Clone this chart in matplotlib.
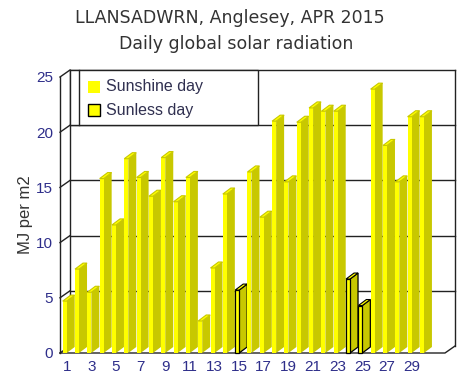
import numpy as np
import matplotlib
matplotlib.use("Agg")
import matplotlib.pyplot as plt
from matplotlib.patches import Polygon, Rectangle

# data (MJ per m2)
days = np.arange(1, 31)
radiation = [4.7, 7.6, 5.5, 15.8, 11.6, 17.6, 15.9, 14.2, 17.7, 13.7,
             15.9, 2.9, 7.7, 14.4, 5.7, 16.4, 12.3, 21.0, 15.5, 20.9,
             22.2, 21.9, 21.9, 6.7, 4.3, 23.9, 18.8, 15.5, 21.4, 21.4]
sunless_days = [15, 24, 25]
yticks = [0, 5, 10, 15, 20, 25]
xticks = list(range(1, 30, 2))

YELLOW = "#FFFF00"
OLIVE = "#C8C800"
NAVY = "#2E2E8A"

W, H = 467, 379
fig = plt.figure(figsize=(W / 100, H / 100), dpi=100)
ax = fig.add_axes([60 / W, (H - 353) / H, 385 / W, 276 / H])
ax.set_xlim(0.456, 31.71)
ax.set_ylim(0, 25)

# pixel -> data scale factors for the fake depth
sx = 385 / (31.71 - 0.456)
sy = 276 / 25.0
wall_dx, wall_dy = 10 / sx, 7 / sy
bar_dx, bar_dy = 8 / sx, 6 / sy
front_w = 4 / sx
x0, x1 = ax.get_xlim()

# walls and grid
ax.plot([x0 + wall_dx, x1 + wall_dx], [25 + wall_dy] * 2, color="#222222", lw=1, clip_on=False)
ax.plot([x1 + wall_dx] * 2, [wall_dy, 25 + wall_dy], color="#222222", lw=1, clip_on=False)
ax.plot([x0 + wall_dx] * 2, [wall_dy, 25 + wall_dy], color="#222222", lw=1, clip_on=False)
for v in yticks[1:-1]:
    ax.plot([x0 + wall_dx, x1 + wall_dx], [v + wall_dy] * 2, color="#222222", lw=1, clip_on=False)
for v in yticks:
    ax.plot([x0, x0 + wall_dx], [v, v + wall_dy], color="#222222", lw=1, clip_on=False)
ax.plot([x0, x0], [0, 25], color="#222222", lw=1, clip_on=False)
ax.plot([x0, x1, x1 + wall_dx], [0, 0, wall_dy], color="#222222", lw=1, clip_on=False)

# legend box drawn on the back wall
lx0, lx1 = x0 + wall_dx, x0 + (258 - 60) / sx
ly0, ly1 = 25 + wall_dy - (55 / sy), 25 + wall_dy
ax.add_patch(Rectangle((lx0, ly0), lx1 - lx0, ly1 - ly0, facecolor="white",
                       edgecolor="#222222", lw=1, clip_on=False, zorder=3))
ax.plot([x0 + 19 / sx] * 2, [ly0, ly1], color="#222222", lw=1, clip_on=False, zorder=3)

# bars as pseudo-3D boxes
for d, v in zip(days, radiation):
    ec = "black" if d in sunless_days else "none"
    lw = 0.9 if d in sunless_days else 0
    left, right = d - front_w, d
    side = Polygon([(right, 0), (right + bar_dx, bar_dy), (right + bar_dx, v + bar_dy), (right, v)],
                   closed=True, facecolor=OLIVE, edgecolor=ec, lw=lw, clip_on=False, zorder=4)
    front = Rectangle((left, 0), front_w, v, facecolor=YELLOW, edgecolor=ec, lw=lw,
                      clip_on=False, zorder=5)
    top = Polygon([(left, v), (right, v), (right + bar_dx, v + bar_dy), (left + bar_dx, v + bar_dy)],
                  closed=True, facecolor=YELLOW, edgecolor=ec if ec != "none" else OLIVE,
                  lw=0.8, clip_on=False, zorder=5)
    ax.add_patch(side)
    ax.add_patch(front)
    ax.add_patch(top)

# ticks
ax.set_xticks(xticks)
ax.set_xticklabels([str(t) for t in xticks], fontsize=11, color=NAVY, family="Liberation Sans")
ax.set_yticks(yticks)
ax.set_yticklabels([str(t) for t in yticks], fontsize=11, color=NAVY, family="Liberation Sans")
ax.tick_params(length=0, pad=5)
for s in ax.spines.values():
    s.set_visible(False)
ax.set_ylabel("MJ per m2", fontsize=12, color="#333333", family="Liberation Sans")
ax.yaxis.set_label_coords(-27 / 385, 0.5)

# legend entries
fig.patches.append(Rectangle((88 / W, (H - 93) / H), 12 / W, 12 / H, facecolor=YELLOW,
                             edgecolor="none", transform=fig.transFigure, zorder=6))
fig.patches.append(Rectangle((88 / W, (H - 116) / H), 12 / W, 12 / H, facecolor=YELLOW,
                             edgecolor="black", lw=1, transform=fig.transFigure, zorder=6))
fig.text(106 / W, (H - 87) / H, "Sunshine day", fontsize=11.5, color="#303050",
         family="Liberation Sans", va="center")
fig.text(106 / W, (H - 110) / H, "Sunless day", fontsize=11.5, color="#303050",
         family="Liberation Sans", va="center")

fig.text(230 / W, (H - 18) / H, "LLANSADWRN, Anglesey, APR 2015", fontsize=12.5,
         color="#333333", ha="center", va="center")
fig.text(236 / W, (H - 44) / H, "Daily global solar radiation", fontsize=12.5,
         color="#333333", ha="center", va="center")

fig.savefig("out.png", dpi=100, facecolor="white")
